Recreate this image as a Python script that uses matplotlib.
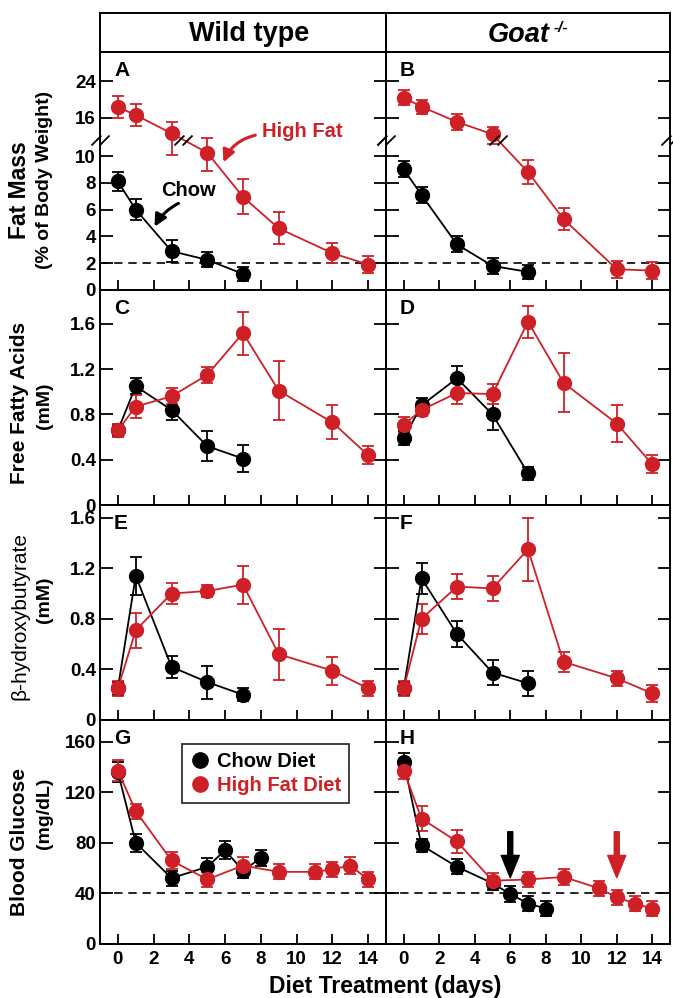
import numpy as np
import matplotlib.pyplot as plt
from matplotlib.path import Path
from matplotlib.lines import Line2D

plt.rcParams['font.family'] = ['Liberation Sans', 'DejaVu Sans']
plt.rcParams['font.weight'] = 'bold'

RED = '#cf2027'

# days
days_chow = [0, 1, 3, 5, 7]
days_hf = [0, 1, 3, 5, 7, 9, 12, 14]
days_glu_chow = [0, 1, 3, 5, 6, 7, 8]
days_glu_hf = [0, 1, 3, 5, 7, 9, 11, 12, 13, 14]

# fat mass (% of body weight)
wt_fat_chow = [8.1, 6.0, 2.9, 2.25, 1.2]
wt_fat_chow_err = [0.7, 0.8, 0.8, 0.55, 0.5]
wt_fat_hf = [18.3, 16.6, 12.6, 10.25, 6.95, 4.6, 2.75, 1.9]
wt_fat_hf_err = [2.4, 2.5, 2.5, 1.4, 1.3, 1.2, 0.75, 0.65]
ko_fat_chow = [9.0, 7.1, 3.4, 1.8, 1.35]
ko_fat_chow_err = [0.6, 0.6, 0.6, 0.6, 0.5]
ko_fat_hf = [20.4, 18.4, 15.1, 12.4, 8.8, 5.3, 1.55, 1.45]
ko_fat_hf_err = [1.6, 1.5, 1.7, 1.5, 0.9, 0.85, 0.65, 0.65]

# free fatty acids (mM)
wt_ffa_chow = [0.66, 1.05, 0.84, 0.52, 0.41]
wt_ffa_chow_err = [0.05, 0.07, 0.09, 0.13, 0.12]
wt_ffa_hf = [0.66, 0.87, 0.96, 1.15, 1.52, 1.01, 0.73, 0.44]
wt_ffa_hf_err = [0.06, 0.10, 0.07, 0.07, 0.19, 0.26, 0.15, 0.08]
ko_ffa_chow = [0.59, 0.88, 1.12, 0.80, 0.28]
ko_ffa_chow_err = [0.06, 0.07, 0.11, 0.14, 0.06]
ko_ffa_hf = [0.71, 0.84, 0.99, 0.98, 1.62, 1.08, 0.72, 0.36]
ko_ffa_hf_err = [0.07, 0.05, 0.10, 0.09, 0.14, 0.26, 0.16, 0.08]

# beta-hydroxybutyrate (mM)
wt_bhb_chow = [0.25, 1.14, 0.42, 0.30, 0.20]
wt_bhb_chow_err = [0.05, 0.15, 0.09, 0.13, 0.05]
wt_bhb_hf = [0.25, 0.71, 1.00, 1.02, 1.07, 0.52, 0.39, 0.25]
wt_bhb_hf_err = [0.06, 0.14, 0.08, 0.05, 0.15, 0.20, 0.11, 0.06]
ko_bhb_chow = [0.25, 1.12, 0.68, 0.375, 0.29]
ko_bhb_chow_err = [0.05, 0.12, 0.10, 0.10, 0.10]
ko_bhb_hf = [0.25, 0.80, 1.055, 1.04, 1.35, 0.46, 0.33, 0.21]
ko_bhb_hf_err = [0.06, 0.12, 0.10, 0.10, 0.25, 0.08, 0.06, 0.07]

# blood glucose (mg/dL)
wt_glu_chow = [136, 80, 52, 61, 74, 58, 68]
wt_glu_chow_err = [8, 7, 6, 7, 7, 6, 6]
wt_glu_hf = [137, 105, 66, 51, 62, 57, 57, 59, 62, 51]
wt_glu_hf_err = [8, 6, 7, 6, 7, 6, 6, 6, 7, 6]
ko_glu_chow = [144, 78, 61, 48, 39.5, 32, 28]
ko_glu_chow_err = [7, 5, 6, 5, 6, 6, 6]
ko_glu_hf = [137, 99, 81, 50, 51, 53, 44, 37, 32, 28]
ko_glu_hf_err = [7, 10, 9, 6, 6, 6, 6, 6, 6, 6]

# broken fat-mass axis
BRK = 11.22
K = 0.3425


def fwd(v):
    v = np.asarray(v, float)
    return np.where(v <= BRK, v, BRK + (v - BRK) * K)


def inv(y):
    y = np.asarray(y, float)
    return np.where(y <= BRK, y, BRK + (y - BRK) / K)


slash = Path([(-1.0, -0.55), (0.1, 0.55), (-0.1, -0.55), (1.0, 0.55)],
             [Path.MOVETO, Path.LINETO, Path.MOVETO, Path.LINETO])

W, H = 673.0, 998.0
fig = plt.figure(figsize=(6.73, 9.98), dpi=100)


def add_ax(x0, y0, x1, y1):
    return fig.add_axes([x0 / W, 1 - y1 / H, (x1 - x0) / W, (y1 - y0) / H])


rows = [(51.7, 290), (290, 505), (505, 720), (720, 944)]
cols = [(100, 386), (386, 670)]

# header
for (x0, x1), txt in zip(cols, ['Wild type', None]):
    hax = add_ax(x0, 12.7, x1, 51.7)
    hax.set_xticks([])
    hax.set_yticks([])
    for s in hax.spines.values():
        s.set_linewidth(1.4)
    if txt:
        hax.text(0.52, 0.45, txt, ha='center', va='center', fontsize=19.5)
    else:
        hax.text(0.575, 0.42, 'Goat', ha='right', va='center', fontsize=19.5, style='italic')
        hax.text(0.59, 0.62, '-/-', ha='left', va='center', fontsize=11, style='italic')


def series(ax, x, y, e, color):
    ax.errorbar(x, y, yerr=e, color=color, marker='o', ms=10, lw=1.3,
                elinewidth=1.3, capsize=4, capthick=1.3, mfc=color, mec=color)


panels = [
    [(wt_fat_chow, wt_fat_chow_err, wt_fat_hf, wt_fat_hf_err),
     (ko_fat_chow, ko_fat_chow_err, ko_fat_hf, ko_fat_hf_err)],
    [(wt_ffa_chow, wt_ffa_chow_err, wt_ffa_hf, wt_ffa_hf_err),
     (ko_ffa_chow, ko_ffa_chow_err, ko_ffa_hf, ko_ffa_hf_err)],
    [(wt_bhb_chow, wt_bhb_chow_err, wt_bhb_hf, wt_bhb_hf_err),
     (ko_bhb_chow, ko_bhb_chow_err, ko_bhb_hf, ko_bhb_hf_err)],
    [(wt_glu_chow, wt_glu_chow_err, wt_glu_hf, wt_glu_hf_err),
     (ko_glu_chow, ko_glu_chow_err, ko_glu_hf, ko_glu_hf_err)],
]
ylims = [(0, 30.4), (0, 1.9), (0, 1.7), (0, 177)]
yticks = [[0, 2, 4, 6, 8, 10, 16, 24], [0, 0.4, 0.8, 1.2, 1.6],
          [0, 0.4, 0.8, 1.2, 1.6], [0, 40, 80, 120, 160]]
yticklabels = [['0', '2', '4', '6', '8', '10', '16', '24'],
               ['0', '0.4', '0.8', '1.2', '1.6'],
               ['0', '0.4', '0.8', '1.2', '1.6'],
               ['0', '40', '80', '120', '160']]
letters = [['A', 'B'], ['C', 'D'], ['E', 'F'], ['G', 'H']]
dashed = [2, None, None, 40]

axes = {}
for r, (y0, y1) in enumerate(rows):
    for c, (x0, x1) in enumerate(cols):
        ax = add_ax(x0, y0, x1, y1)
        axes[(r, c)] = ax
        chow, chow_e, hf, hf_e = panels[r][c]
        if r == 0:
            ax.set_yscale('function', functions=(fwd, inv))
        if r == 3:
            dc, dh = days_glu_chow, days_glu_hf
        else:
            dc, dh = days_chow, days_hf
        if dashed[r] is not None:
            ax.axhline(dashed[r], color='black', ls=(0, (5, 3.5)), lw=1.2, zorder=0)
        series(ax, dc, chow, chow_e, 'black')
        series(ax, dh, hf, hf_e, RED)
        ax.set_xlim(-1, 15)
        ax.set_ylim(*ylims[r])
        ax.set_xticks(range(0, 15, 2))
        ax.set_yticks(yticks[r])
        ax.set_yticklabels(yticklabels[r])
        ax.yaxis.set_minor_locator(plt.NullLocator())
        ax.tick_params(axis='both', direction='in', width=1.3, labelsize=13.5, pad=3)
        ax.tick_params(axis='y', length=9, left=True, right=True, labelleft=(c == 0))
        ax.tick_params(axis='x', length=7, labelbottom=(r == 3), pad=5)
        for s in ax.spines.values():
            s.set_linewidth(1.4)
        h = y1 - y0
        ax.text(14 / (x1 - x0), 1 - 9 / h, letters[r][c], transform=ax.transAxes,
                ha='left', va='top', fontsize=15)

        if r == 0:
            # break marks on spines
            ax.plot([0, 1], [BRK, BRK], transform=ax.get_yaxis_transform(),
                    ls='none', marker=slash, ms=13, mew=1.3, color='black', clip_on=False)
            # break mark on the high fat line where it crosses the break
            yt = fwd(hf)
            for i in range(len(yt) - 1):
                if yt[i] > BRK >= yt[i + 1]:
                    t = (yt[i] - BRK) / (yt[i] - yt[i + 1])
                    xb = dh[i] + t * (dh[i + 1] - dh[i])
                    ax.plot([xb], [BRK], ls='none', marker=slash, ms=13, mew=1.3,
                            color='black', zorder=5)

# annotations in A
axA = axes[(0, 0)]
axA.text(10.33, 12.9, 'High Fat', color=RED, ha='center', va='center', fontsize=14.5)
axA.annotate('', xy=(5.91, 9.53), xytext=(7.69, 12.2),
             arrowprops=dict(arrowstyle='-|>', color=RED, lw=2.2, mutation_scale=18,
                             connectionstyle='arc3,rad=0.25', shrinkA=0, shrinkB=0))
axA.text(3.95, 7.46, 'Chow', color='black', ha='center', va='center', fontsize=14.5)
axA.annotate('', xy=(2.05, 4.72), xytext=(3.39, 6.47),
             arrowprops=dict(arrowstyle='-|>', color='black', lw=2.2, mutation_scale=18,
                             connectionstyle='arc3,rad=0.15', shrinkA=0, shrinkB=0))

# legend in G
axG = axes[(3, 0)]
handles = [Line2D([], [], marker='o', color='black', ls='none', ms=11),
           Line2D([], [], marker='o', color=RED, ls='none', ms=11)]
leg = axG.legend(handles, ['Chow Diet', 'High Fat Diet'], loc='upper left',
                 bbox_to_anchor=(0.286, 0.893), frameon=True, fancybox=False,
                 edgecolor='black', fontsize=14.5, handletextpad=0.35, borderpad=0.4,
                 labelspacing=0.25, handlelength=1.0, borderaxespad=0)
leg.get_frame().set_linewidth(1.3)
for t, col in zip(leg.get_texts(), ['black', RED]):
    t.set_color(col)

# arrows in H
axH = axes[(3, 1)]
for xa, col in [(6, 'black'), (12, RED)]:
    axH.annotate('', xy=(xa, 52.4), xytext=(xa, 88.7),
                 arrowprops=dict(width=3.6, headwidth=13, headlength=16, color=col, shrink=0))

# y labels
ylab = [
    (('Fat Mass', 16.5, 'bold', 190), ('(% of Body Weight)', 14, 'bold', 180)),
    (('Free Fatty Acids', 15, 'bold', 403), ('(mM)', 14, 'bold', 406)),
    (('\u03b2-hydroxybutyrate', 15, 'normal', 616), ('(mM)', 14, 'bold', 600)),
    (('Blood Glucose', 15, 'bold', 842), ('(mg/dL)', 14, 'bold', 813)),
]
for (t1, s1, w1, yc1), (t2, s2, w2, yc2) in ylab:
    fig.text(20 / W, 1 - yc1 / H, t1, rotation=90, ha='center', va='center',
             fontsize=s1, fontweight=w1)
    fig.text(45 / W, 1 - yc2 / H, t2, rotation=90, ha='center', va='center',
             fontsize=s2, fontweight=w2)

fig.text(385 / W, 1 - 987 / H, 'Diet Treatment (days)', ha='center', va='center', fontsize=16.5)

fig.savefig('out.png', dpi=100)
